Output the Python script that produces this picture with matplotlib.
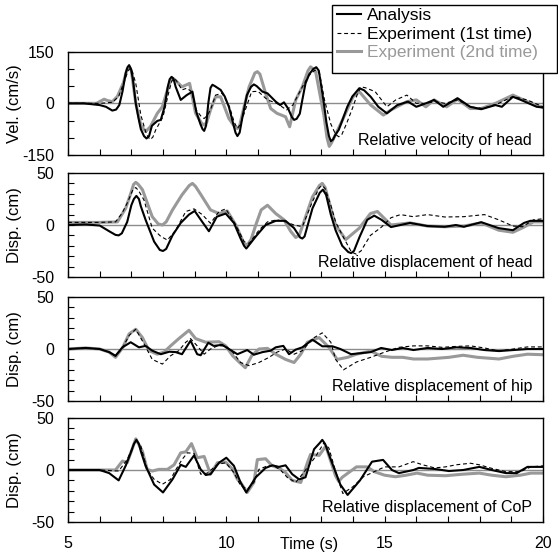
import matplotlib
matplotlib.use("Agg")
import matplotlib.pyplot as plt
from matplotlib.lines import Line2D
from matplotlib.patches import Rectangle

plt.rcParams['font.family'] = ['Liberation Sans', 'DejaVu Sans']
plt.rcParams['axes.unicode_minus'] = False

# ---------------- data ----------------
# Panel 1: relative velocity of head (cm/s)
t_vel_ana = [5.0, 5.5, 6.0, 6.2, 6.4, 6.52, 6.62, 6.72, 6.82, 6.88, 6.93, 6.99, 7.05, 7.14, 7.22, 7.3, 7.4, 7.48, 7.56,
             7.65, 7.82, 7.93, 8.05, 8.15, 8.21, 8.27, 8.33, 8.4, 8.56, 8.75, 8.93, 9.05, 9.18, 9.25, 9.3, 9.36, 9.43,
             9.5, 9.56, 9.64, 9.82, 9.95, 10.08, 10.2, 10.29, 10.35, 10.42, 10.5, 10.65, 10.78, 10.87, 10.96, 11.14,
             11.3, 11.56, 11.7, 11.82, 11.95, 12.07, 12.14, 12.22, 12.32, 12.4, 12.5, 12.62, 12.75, 12.84, 12.92, 13.0,
             13.08, 13.16, 13.24, 13.3, 13.37, 13.45, 13.55, 13.68, 13.82, 13.98, 14.2, 14.35, 14.56, 14.8, 15.07, 15.4,
             15.74, 16.0, 16.3, 16.56, 16.85, 17.3, 17.7, 18.05, 18.5, 18.7, 19.05, 19.3, 19.8, 20.0]
vel_ana = [0, 0, -5, -10, -21, -18, -5, 34, 87, 105, 111, 100, 70, 0, -40, -75, -95, -102, -95,
           -65, -51, -48, -10, 48, 70, 77, 72, 48, 10, 24, 34, -24, -60, -75, -80, -65, 0,
           45, 54, 50, 39, 20, -10, -53, -85, -95, -85, -44, 24, 48, 55, 50, 34,
           29, 5, -5, 3, -15, -40, -48, -45, -30, 10, 58, 85, 100, 105, 95, 48,
           0, -55, -95, -110, -105, -90, -77, -45, -10, 20, 44, 38, 19, -10, -29, -5,
           5, -10, 0, 10, -10, 15, -10, -17, -5, -10, 19, 10, -10, -12]

t_vel_exp1 = [5.0, 6.0, 6.4, 6.6, 6.8, 6.9, 6.97, 7.04, 7.14, 7.3, 7.45, 7.53, 7.6, 7.68, 7.77, 8.0, 8.2, 8.28, 8.35,
              8.43, 8.6, 8.75, 8.9, 9.05, 9.22, 9.3, 9.4, 9.5, 9.66, 9.87, 10.1, 10.25, 10.35, 10.45, 10.6, 10.8, 11.0,
              11.3, 11.6, 11.9, 12.1, 12.4, 12.6, 12.78, 12.85, 12.95, 13.1, 13.3, 13.45, 13.55, 13.65, 13.8, 14.0,
              14.15, 14.26, 14.4, 14.7, 15.07, 15.35, 15.7, 16.0, 16.3, 16.6, 16.9, 17.3, 17.7, 18.1, 18.6, 19.05,
              19.5, 20.0]
vel_exp1 = [0, 0, 3, 20, 70, 95, 102, 90, 58, -34, -82, -98, -105, -98, -77, -39, 39, 65, 73,
            65, 39, 44, 34, -19, -40, -44, -35, -19, 24, 29, -10, -55, -73, -60, -19, 34, 35,
            10, 0, -19, -5, 48, 80, 95, 97, 85, 10, -60, -90, -97, -90, -58, -10,
            30, 48, 45, 34, -10, 10, 24, 0, 0, 5, 0, 10, -10, -15, 0, 20,
            10, -10]

t_vel_exp2 = [5.0, 5.9, 6.14, 6.25, 6.4, 6.56, 6.75, 6.86, 6.93, 7.0, 7.14, 7.3, 7.45, 7.6, 7.82, 7.98, 8.14, 8.24,
              8.3, 8.38, 8.6, 8.84, 9.03, 9.22, 9.3, 9.38, 9.5, 9.66, 9.82, 10.08, 10.28, 10.35, 10.42, 10.56, 10.72,
              10.9, 10.98, 11.06, 11.24, 11.4, 11.6, 11.87, 12.0, 12.19, 12.4, 12.58, 12.66, 12.74, 12.82, 13.08,
              13.18, 13.25, 13.32, 13.45, 13.67, 14.0, 14.2, 14.56, 14.96, 15.2, 15.7, 16.0, 16.3, 16.56, 16.96,
              17.3, 17.7, 18.05, 18.5, 19.05, 19.5, 20.0]
vel_exp2 = [0, 0, 12, 8, 5, 20, 60, 98, 106, 95, 0, -63, -82, -68, -29, -10, 39, 65,
            73, 68, 48, 58, -29, -58, -63, -55, -19, 19, 19, -44, -70, -73, -65, -10, 48,
            88, 92, 85, 29, -15, -29, -39, -68, 10, 48, 95, 106, 100, 92, -34,
            -100, -125, -115, -90, -48, 19, 34, -5, -34, -19, 5, 10, -10, 10, -10,
            12, -15, -15, 0, 24, 5, -12]

# Panel 2: relative displacement of head (cm)
t_head_ana = [5.0, 5.56, 6.0, 6.3, 6.5, 6.6, 6.7, 6.87, 7.0, 7.08, 7.16, 7.24, 7.3, 7.45, 7.72, 7.9, 8.0, 8.1, 8.3,
              8.56, 8.82, 9.0, 9.24, 9.45, 9.7, 9.98, 10.24, 10.45, 10.56, 10.63, 10.7, 10.93, 11.24, 11.56, 11.87,
              12.14, 12.33, 12.4, 12.47, 12.72, 12.95, 13.05, 13.15, 13.3, 13.45, 13.66, 13.85, 13.94, 14.03, 14.2,
              14.45, 14.67, 14.9, 15.2, 15.8, 16.35, 16.9, 17.25, 17.5, 18.05, 18.6, 19.05, 19.4, 19.6, 20.0]
head_ana = [0, 0.5, -0.5, -6, -9.5, -10, -8, 3, 19, 25, 28, 25, 18, 5, -16, -24, -25, -23, -10,
            2, 10, 13.5, 3, -6, 8, 11, 2, -13, -20, -22.6, -20, -11, 0, 4, 4,
            -3, -12, -13, -11, 16, 31, 34, 29, 10, -5, -20, -26, -27, -25, -12,
            5, 9, 5, -2, 2, -1, -1.7, 0, -1.7, 2.7, -3, -5, 2, 4, 4]

t_head_exp1 = [5.0, 6.0, 6.5, 6.7, 6.87, 7.05, 7.14, 7.23, 7.4, 7.66, 7.93, 8.14, 8.4, 8.72, 8.98, 9.24, 9.5, 9.77,
               9.98, 10.3, 10.56, 10.72, 11.03, 11.3, 11.6, 11.87, 12.14, 12.4, 12.72, 12.94, 13.03, 13.12, 13.3,
               13.45, 13.7, 13.95, 14.1, 14.25, 14.55, 14.9, 15.2, 15.5, 15.9, 16.35, 16.9, 17.5, 18.15, 18.6,
               19.05, 19.35, 19.7, 20.0]
head_exp1 = [2.5, 2.5, 3, 11, 21, 34, 36, 33, 24, -3, -11, -14.5, -5, 13, 15.5, 10, 1.6, 13,
             15.5, 0, -16, -17.7, -5, 3, 5, 3, 0, -1.6, 22.6, 36, 38, 35, 19,
             3, -12, -26, -28, -25, -10, -2, 7, 10, 8, 10, 7.7, 8, 10, 5,
             -1, -1.7, 5, 6]

t_head_exp2 = [5.0, 6.0, 6.56, 6.82, 7.0, 7.07, 7.14, 7.22, 7.35, 7.66, 7.85, 7.98, 8.1, 8.3, 8.6, 8.83, 8.93, 9.03,
               9.2, 9.5, 9.77, 10.03, 10.3, 10.56, 10.67, 10.78, 10.93, 11.1, 11.3, 11.56, 11.82, 12.03, 12.19, 12.3,
               12.45, 12.72, 12.94, 13.03, 13.12, 13.3, 13.45, 13.77, 14.2, 14.55, 14.77, 15.2, 15.8, 16.35, 16.9,
               17.5, 18.05, 18.6, 19.05, 19.4, 19.7, 20.0]
head_exp2 = [2.5, 2.5, 3, 16, 32, 39, 41, 39, 34, 8, 1, 0, 3, 14.5, 29, 38, 40, 37,
             29, 14.5, 11, 13.5, 0, -18, -19, -14, 0, 14.5, 19, 11, 5, -6, -12, -10,
             3, 27, 38, 40, 36, 16, 0, -14, -3, 11, 13, 0, 2, -1, -1.7,
             -1, 2, -5, -7, -2, 3, 3]

# Panel 3: relative displacement of hip (cm)
t_hip_ana = [5.0, 5.56, 6.0, 6.3, 6.5, 6.72, 6.98, 7.24, 7.45, 7.66, 7.93, 8.2, 8.4, 8.6, 8.87, 9.08, 9.19, 9.43, 9.6,
             9.87, 10.08, 10.35, 10.66, 10.87, 11.14, 11.4, 11.56, 11.8, 11.98, 12.19, 12.4, 12.72, 13.03, 13.35,
             13.6, 13.94, 14.56, 14.89, 15.23, 15.57, 15.91, 16.36, 16.81, 17.26, 17.71, 18.15, 18.61, 19.06, 19.51,
             20.0]
hip_ana = [0, 1, 0, -3, -6.5, 1.6, 6.5, 1.6, 3, -1.6, -5, -2.6, -3, -5, 8, -5, -6, 6, 3,
           4, 0, -5, -1, -5.5, -3, -1.6, 1.6, 3, -5, -0.6, 1.6, 9, 2.6, 2.6,
           0, -5, -3, 1, -1, 1, -1, 1, 0, 1.6, 1, -1, -2, -1, 0,
           0]

t_hip_exp1 = [5.0, 5.56, 6.0, 6.3, 6.5, 6.72, 6.93, 7.14, 7.4, 7.66, 7.98, 8.24, 8.5, 8.72, 8.87, 9.08, 9.3, 9.5,
              9.72, 9.98, 10.2, 10.45, 10.72, 11.03, 11.35, 11.6, 11.87, 12.14, 12.4, 12.72, 13.03, 13.3, 13.45, 13.7,
              14.11, 14.56, 15.0, 15.45, 15.91, 16.36, 16.81, 17.26, 17.71, 18.15, 18.61, 19.06, 19.51, 20.0]
hip_exp1 = [0, 1, 0, -3, -7, 1, 13, 19, 5, -10, -14.5, -6.5, -1.6, 6.5, 10, 3, -5, 0,
            3, 3, -3, -13, -16, -13, -8, -3, 0, -5, -1.6, 10, 15.5, 6.5, -10, -20,
            -12.5, -8, -3, 1.6, 3, 3, 1.6, 2.5, 3, 1, -2, 0, 2, 2]

t_hip_exp2 = [5.0, 5.56, 6.0, 6.3, 6.5, 6.72, 6.93, 7.14, 7.35, 7.56, 7.82, 8.03, 8.24, 8.5, 8.82, 9.03, 9.35, 9.77,
              9.98, 10.2, 10.42, 10.6, 10.8, 11.03, 11.3, 11.56, 11.87, 12.14, 12.35, 12.56, 12.93, 13.24, 13.5,
              13.83, 14.11, 14.56, 14.9, 15.23, 15.57, 15.91, 16.36, 17.03, 17.48, 17.93, 18.61, 19.06, 19.51, 20.0]
hip_exp2 = [0, 1, 0, -3, -8, 1, 14.5, 19, 11, -1.6, -5, -3, 3, 10, 18, 10, 6.5, 7,
            3, -6.5, -13, -18, -6.5, 0, 0.6, -5, -10, -13, -5, 6.5, 11, 1.6, -10,
            -8, -5, -2, -7, -8, -8, -9.6, -9.6, -8, -6, -8, -9.6, -7, -5, -5.5]

# Panel 4: relative displacement of CoP (cm)
t_cop_ana = [5.0, 6.0, 6.3, 6.6, 6.82, 7.0, 7.08, 7.16, 7.24, 7.3, 7.45, 7.72, 8.0, 8.3, 8.56, 8.72, 8.98, 9.19, 9.35,
             9.5, 9.77, 10.0, 10.24, 10.45, 10.63, 10.93, 11.24, 11.45, 11.66, 11.87, 12.08, 12.3, 12.5, 12.77, 12.95,
             13.03, 13.12, 13.3, 13.45, 13.6, 13.83, 14.22, 14.6, 14.95, 15.23, 15.45, 15.91, 16.08, 16.58, 17.03,
             17.48, 17.99, 18.38, 18.83, 19.17, 19.51, 20.0]
cop_ana = [0, 0, -3, -10, 4, 18, 25, 29, 25, 18, 4, -14, -21.6, -9, 5, 3, 14, 0.6, -4.8,
           -4, 7, 11.8, 4, -12, -21.6, -7, 2, 4.5, 3, 4.5, -4, -9, -7, 20, 26,
           29, 25, 10, -2, -14, -24, -10, 8, 9.7, 0, -3, 0, 2, 1, -1,
           0, 3, 0, -3, -3, 3, 3]

t_cop_exp1 = [5.0, 6.0, 6.6, 6.87, 7.14, 7.3, 7.5, 7.72, 7.98, 8.24, 8.4, 8.6, 8.77, 8.98, 9.19, 9.4, 9.72, 9.98, 10.24,
              10.45, 10.66, 10.87, 11.03, 11.3, 11.5, 11.71, 11.92, 12.19, 12.4, 12.6, 12.82, 13.08, 13.24, 13.4, 13.55,
              13.68, 14.0, 14.33, 14.67, 15.0, 15.45, 15.9, 16.2, 16.58, 16.92, 17.26, 17.71, 17.99, 18.38, 18.83, 19.28,
              19.62, 20.0]
cop_exp1 = [0, 0, -1, 10, 28.6, 23, 0.6, -9, -13.7, -9, 0, 10, 16.5, 16, -4, -3, 5.4, 7, -2.5,
            -15, -18.4, -12, 0.6, 4, 4, 0, -7, -12, -4, 4, 13, 26, 21, 4, -11,
            -22.6, -16, -6.5, -1.6, 3, 3, 8, 5, 2, 3, 5, 6.5, 5, 1.6, -1.6, -1.6,
            3, 4]

t_cop_exp2 = [5.0, 6.0, 6.5, 6.72, 6.87, 7.14, 7.35, 7.5, 7.66, 7.87, 8.14, 8.35, 8.56, 8.72, 8.9, 9.08, 9.3, 9.5, 9.72,
              9.98, 10.2, 10.35, 10.45, 10.66, 10.87, 10.98, 11.24, 11.45, 11.66, 11.87, 12.08, 12.35, 12.56, 12.66, 12.93,
              13.14, 13.33, 13.45, 13.55, 13.66, 14.11, 14.45, 14.67, 15.0, 15.34, 15.68, 16.02, 16.36, 16.92, 17.48,
              17.99, 18.38, 18.83, 19.28, 19.62, 20.0]
cop_exp2 = [0, 0, 0, 8.6, 7, 30, 18, 0.6, -1, 0.6, 0.6, 5, 16.5, 17.5, 25.4, 11.8, 13, -4, 7,
            7.6, 0.6, -9, -12, -21.6, -12, 10, 10.8, 4, 2, -2.5, -10, -12, 7, 15, 14,
            23, 5.4, -5.7, -11, -7, 3, 3, -1.6, -5, -6.5, -5, -3, -5, -5.5, -4,
            -3, -5, -6.5, -5, -3, -3]

panel_texts = ["Relative velocity of head", "Relative displacement of head",
               "Relative displacement of hip", "Relative displacement of CoP"]
panel_ylabels = ["Vel. (cm/s)", "Disp. (cm)", "Disp. (cm)", "Disp. (cm)"]
legend_labels = ["Analysis", "Experiment (1st time)", "Experiment (2nd time)"]
x_major = [5, 10, 15, 20]
x_ticklabels = ["5", "10", "15", "20"]

series = [
    (t_vel_ana, vel_ana, t_vel_exp1, vel_exp1, t_vel_exp2, vel_exp2),
    (t_head_ana, head_ana, t_head_exp1, head_exp1, t_head_exp2, head_exp2),
    (t_hip_ana, hip_ana, t_hip_exp1, hip_exp1, t_hip_exp2, hip_exp2),
    (t_cop_ana, cop_ana, t_cop_exp1, cop_exp1, t_cop_exp2, cop_exp2),
]

# ---------------- figure ----------------
W, H = 558, 552
fig = plt.figure(figsize=(W / 100, H / 100), dpi=100)

GRAY = '#999999'
DASH = (0, (3.5, 2.5))
boxes = [(51.7, 155), (173, 277), (297, 401), (418, 522)]
left_px, right_px = 68, 543

for i, (top, bot) in enumerate(boxes):
    ax = fig.add_axes([left_px / W, 1 - bot / H, (right_px - left_px) / W, (bot - top) / H])
    ta, ya, t1, y1, t2, y2 = series[i]
    ax.axhline(0, color='#8c8c8c', lw=1.0, zorder=1)
    ax.plot(t2, y2, color=GRAY, lw=2.2, zorder=2, solid_joinstyle='round')
    ax.plot(t1, y1, color='black', lw=0.8, ls=DASH, zorder=3)
    ax.plot(ta, ya, color='black', lw=1.5, zorder=4, solid_joinstyle='round')
    ax.set_xlim(5, 20)
    if i == 0:
        yt = [-150, -100, -50, 0, 50, 100, 150]
        ax.set_ylim(-150, 150)
        ax.set_yticks(yt)
        ax.set_yticklabels([str(v) if v in (-150, 0, 150) else '' for v in yt])
    else:
        yt = list(range(-50, 51, 10))
        ax.set_ylim(-50, 50)
        ax.set_yticks(yt)
        ax.set_yticklabels([str(v) if v in (-50, 0, 50) else '' for v in yt])
    xt = list(range(5, 21))
    ax.set_xticks(xt)
    if i == 3:
        ax.set_xticklabels([x_ticklabels[x_major.index(v)] if v in x_major else '' for v in xt])
    else:
        ax.set_xticklabels([])
    ax.tick_params(axis='both', direction='in', length=4, width=0.8, labelsize=11.5,
                   top=False, right=False)
    ax.tick_params(axis='y', pad=10)
    ax.tick_params(axis='x', pad=10)
    for s in ax.spines.values():
        s.set_linewidth(1.0)
        s.set_color('black')
    ax.set_ylabel(panel_ylabels[i], fontsize=12)
    ax.yaxis.set_label_coords(-0.097, 0.5)
    ax.text(0.977, 0.14, panel_texts[i], transform=ax.transAxes, ha='right', va='center',
            fontsize=11.5)

fig.text(309 / W, 1 - 549.5 / H, "Time (s)", ha='center', va='baseline', fontsize=11.5)

# legend box
fig.patches.append(Rectangle((332 / W, 1 - 73 / H), (557 - 332) / W, 68 / H,
                             transform=fig.transFigure, facecolor='white',
                             edgecolor='black', lw=1.0, zorder=9))
handles = [Line2D([], [], color='black', lw=1.5),
           Line2D([], [], color='black', lw=0.8, ls=DASH),
           Line2D([], [], color=GRAY, lw=2.2)]
leg = fig.legend(handles, legend_labels, loc='upper left',
                 bbox_to_anchor=(337 / W, 1 - 8 / H), fontsize=12.5,
                 frameon=False, handlelength=1.38, handletextpad=0.32,
                 labelspacing=0.2, borderpad=0, borderaxespad=0)
leg.texts[2].set_color(GRAY)
leg.set_zorder(10)

fig.savefig("out.png", dpi=100)
